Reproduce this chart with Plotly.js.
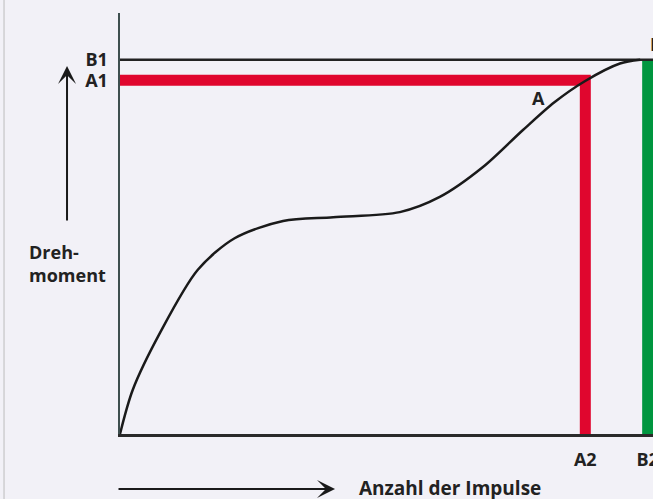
<!DOCTYPE html>
<html>
<head>
<meta charset="utf-8">
<script src="https://cdn.plot.ly/plotly-3.0.1.min.js"></script>
<style>html,body{margin:0;padding:0;background:#f2f1f7;}#chart{width:653px;height:499px;}</style>
</head>
<body>
<div id="chart"></div>
<script>
// Torque curve (arbitrary units, 0..100 on both axes)
const curveX = [0, 2.4, 7.5, 14.6, 21.5, 30.6, 40.0, 52.5, 60.0, 68.1, 75.6, 81.5, 87.2, 93.8, 97.6];
const curveY = [0, 10.5, 24.0, 39.0, 46.5, 50.6, 51.5, 52.7, 56.3, 63.4, 72.2, 78.8, 83.8, 88.0, 88.9];
// Marked levels
const levelNames = ['A1', 'B1'];
const levelValues = [84.0, 88.9];
const pulseNames = ['A2', 'B2'];
const pulseValues = [87.3, 99.0];
const pointA = {label: 'A', x: 78.6, y: 79.8};
const pointB = {label: 'B'};
const yTitle = 'Dreh-<br>moment';
const xTitle = 'Anzahl der Impulse';

const A1 = levelValues[0], B1 = levelValues[1];
const A2 = pulseValues[0], B2 = pulseValues[1];
const txt = '#222222';
const fnt = (s) => ({family: 'Open Sans', size: s, color: txt, weight: 700});

const trace = {
  x: curveX, y: curveY, type: 'scatter', mode: 'lines',
  line: {shape: 'spline', smoothing: 0.85, color: '#1a1a1a', width: 2.5},
  hoverinfo: 'skip', showlegend: false
};

const layout = {
  width: 653, height: 499,
  paper_bgcolor: '#f2f1f7', plot_bgcolor: '#f2f1f7',
  margin: {l: 120, r: 0, t: 13, b: 65},
  showlegend: false,
  xaxis: {
    range: [0, 100], showgrid: false, zeroline: false,
    showline: true, linecolor: '#2a2a2a', linewidth: 2.5,
    tickmode: 'array', tickvals: pulseValues, ticktext: pulseNames,
    ticks: '', ticklabelstandoff: 8, ticklabeloverflow: 'allow',
    tickfont: fnt(18), fixedrange: true
  },
  yaxis: {
    range: [0, 100], showgrid: false, zeroline: false,
    showline: true, linecolor: '#3e4f4f', linewidth: 2.5,
    tickmode: 'array', tickvals: levelValues, ticktext: levelNames,
    ticks: '', ticklabelstandoff: 6, tickfont: fnt(18), fixedrange: true
  },
  shapes: [
    {type: 'path', xref: 'x', yref: 'y', layer: 'below',
     path: 'M0,' + A1 + 'L' + A2 + ',' + A1 + 'L' + A2 + ',0',
     line: {color: '#e0062e', width: 11}},
    {type: 'line', xref: 'x', yref: 'y', layer: 'below',
     x0: B2, x1: B2, y0: 0, y1: B1,
     line: {color: '#00963f', width: 11}},
    {type: 'line', xref: 'x', yref: 'y', layer: 'below',
     x0: 0, x1: 100, y0: B1, y1: B1,
     line: {color: '#222222', width: 2.5}},
    {type: 'line', xref: 'paper', yref: 'paper',
     x0: -0.2176, x1: -0.2176, y0: -0.16, y1: 1.04,
     line: {color: '#bcbcbc', width: 1}}
  ],
  annotations: [
    {x: pointA.x, y: pointA.y, xref: 'x', yref: 'y', text: pointA.label,
     showarrow: false, font: fnt(18)},
    {x: B2, y: B1, xref: 'x', yref: 'y', text: pointB.label, xanchor: 'left',
     yshift: 16, showarrow: false, font: fnt(18)},
    {x: -0.1745, y: 0.404, xref: 'paper', yref: 'paper', text: yTitle,
     xanchor: 'left', yanchor: 'middle', align: 'left', showarrow: false, font: fnt(18)},
    {x: 0.4447, y: -0.128, xref: 'paper', yref: 'paper', text: xTitle,
     xanchor: 'left', yanchor: 'middle', showarrow: false, font: fnt(19)},
    {x: -0.0994, y: 0.874, xref: 'paper', yref: 'paper', text: '',
     showarrow: true, ax: 0, ay: 156, axref: 'pixel', ayref: 'pixel',
     arrowhead: 3, arrowsize: 1.5, arrowwidth: 2, arrowcolor: '#1a1a1a', standoff: 0},
    {x: 0.4034, y: -0.1306, xref: 'paper', yref: 'paper', text: '',
     showarrow: true, ax: -218, ay: 0, axref: 'pixel', ayref: 'pixel',
     arrowhead: 3, arrowsize: 1.5, arrowwidth: 2, arrowcolor: '#1a1a1a', standoff: 0}
  ]
};

Plotly.newPlot('chart', [trace], layout, {displayModeBar: false, staticPlot: true});
</script>
</body>
</html>
